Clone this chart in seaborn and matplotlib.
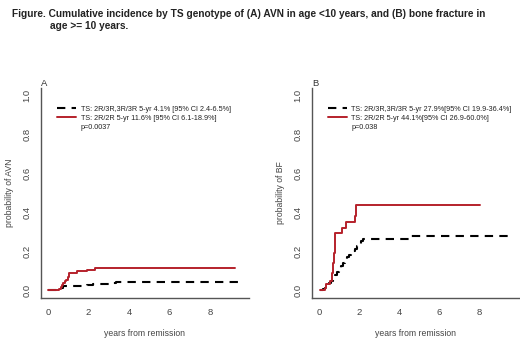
import matplotlib
matplotlib.use("Agg")
import matplotlib.pyplot as plt
import seaborn as sns
import pandas as pd
from matplotlib.lines import Line2D

# ---- data ----
a_black_t = [0, 0.6, 0.75, 1.9, 2.2, 3.2, 3.35, 9.4]
a_black_y = [0, 0.01, 0.02, 0.028, 0.034, 0.038, 0.041, 0.041]
a_red_t = [0, 0.55, 0.62, 0.68, 0.75, 0.82, 0.9, 0.97, 1.03, 1.42, 1.9, 2.32, 9.25]
a_red_y = [0, 0.008, 0.017, 0.025, 0.035, 0.045, 0.055, 0.07, 0.088, 0.098, 0.105, 0.116, 0.116]

b_black_t = [0.03, 0.2, 0.3, 0.4, 0.5, 0.6, 0.7, 0.8, 0.9, 1.0, 1.1, 1.2, 1.3, 1.4,
             1.5, 1.6, 1.7, 1.8, 1.9, 2.0, 2.1, 2.2, 4.55, 9.45]
b_black_y = [0, 0.005, 0.012, 0.02, 0.035, 0.05, 0.065, 0.08, 0.095, 0.11, 0.125, 0.14,
             0.155, 0.17, 0.18, 0.19, 0.2, 0.21, 0.225, 0.24, 0.255, 0.265, 0.278, 0.278]
b_red_t = [0.03, 0.28, 0.37, 0.57, 0.65, 0.7, 0.75, 0.8, 1.17, 1.33, 1.78, 1.87, 8.03]
b_red_y = [0, 0.01, 0.03, 0.05, 0.087, 0.14, 0.19, 0.296, 0.32, 0.35, 0.38, 0.44, 0.44]

a_labels = ["TS: 2R/3R,3R/3R 5-yr 4.1% [95% CI 2.4-6.5%]",
            "TS: 2R/2R 5-yr 11.6% [95% CI 6.1-18.9%]",
            "p=0.0037"]
b_labels = ["TS: 2R/3R,3R/3R 5-yr 27.9%[95% CI 19.9-36.4%]",
            "TS: 2R/2R 5-yr 44.1%[95% CI 26.9-60.0%]",
            "p=0.038"]
x_ticks = [0, 2, 4, 6, 8]
y_ticks = [0.0, 0.2, 0.4, 0.6, 0.8, 1.0]
title_line1 = "Figure. Cumulative incidence by TS genotype of (A) AVN in age <10 years, and (B) bone fracture in"
title_line2 = "age >= 10 years."

sns.set_style("white")
plt.rcParams['font.family'] = ['Liberation Sans', 'DejaVu Sans']

RED = "#B5212B"
GREY = "#555555"

fig = plt.figure(figsize=(5.2, 3.47), dpi=100)
axA = fig.add_axes([41/520, 1-298/347, 208/520, 210/347])
axB = fig.add_axes([312/520, 1-298/347, 207/520, 210/347])

panels = [
    (axA, a_black_t, a_black_y, a_red_t, a_red_y, a_labels, "probability of AVN", "A", 9.93),
    (axB, b_black_t, b_black_y, b_red_t, b_red_y, b_labels, "probability of BF", "B", 10.0),
]

for ax, bt, by, rt, ry, labels, ylab, tag, xmax in panels:
    df_b = pd.DataFrame({"t": bt, "p": by})
    df_r = pd.DataFrame({"t": rt, "p": ry})
    sns.lineplot(data=df_b, x="t", y="p", ax=ax, color="black", lw=1.5,
                 drawstyle="steps-post", estimator=None)
    ax.lines[-1].set_dashes([4, 3])
    sns.lineplot(data=df_r, x="t", y="p", ax=ax, color=RED, lw=1.4,
                 drawstyle="steps-post", estimator=None)
    ax.set_xlim(-0.35, xmax)
    ax.set_ylim(-0.04, 1.04)
    ax.set_xticks(x_ticks)
    ax.set_yticks(y_ticks)
    ax.set_xticklabels([str(v) for v in x_ticks])
    ax.set_yticklabels([f"{v:.1f}" for v in y_ticks], rotation=90, va="center")
    for s in ["top", "right"]:
        ax.spines[s].set_visible(False)
    for s in ["left", "bottom"]:
        ax.spines[s].set_color(GREY)
        ax.spines[s].set_linewidth(1.0)
    ax.tick_params(axis="both", direction="out", length=4, width=0.9, color=GREY,
                   labelsize=6.8, labelcolor="#444444", pad=3)
    ax.set_xlabel("years from remission", fontsize=6.2, color="#444444", labelpad=9)
    ax.set_ylabel(ylab, fontsize=6.2, color="#444444", labelpad=6)
    ax.text(0.0, 1.0, tag, transform=ax.transAxes, fontsize=6.8, color="#333333",
            ha="left", va="bottom")
    handles = [Line2D([], [], color="black", lw=1.5, dashes=[4, 3]),
               Line2D([], [], color=RED, lw=1.4),
               Line2D([], [], color="none")]
    ax.legend(handles, labels, loc="upper left", bbox_to_anchor=(0.065, 0.93),
              frameon=False, fontsize=5.2, handlelength=2.6, handletextpad=0.6,
              labelspacing=0.3, borderaxespad=0, labelcolor="#222222")

fig.text(12/520, 1-14/347, title_line1, fontsize=7.3, fontweight="bold",
         ha="left", va="center", color="#222222")
fig.text(50/520, 1-26/347, title_line2, fontsize=7.3, fontweight="bold",
         ha="left", va="center", color="#222222")

fig.savefig("out.png", dpi=100)
